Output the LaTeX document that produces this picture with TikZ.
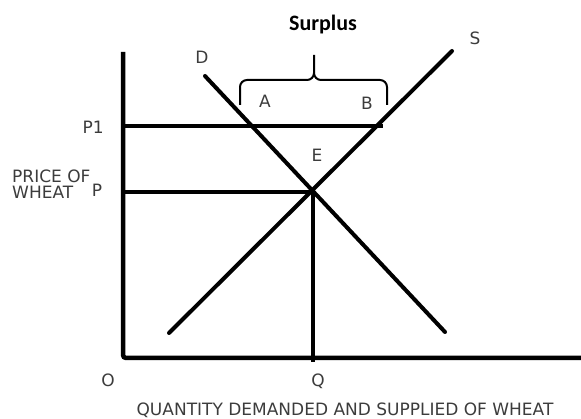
\documentclass[tikz,border=0pt]{standalone}
\usepackage{fontspec}
\setmainfont{DejaVu Sans}
\newfontfamily\surplusfont{Carlito}
\definecolor{lblgray}{RGB}{60,60,60}

\begin{document}
\begin{tikzpicture}[
    x=1pt, y=-1pt,
    axis/.style={line width=4.5pt, rounded corners=3pt},
    curve/.style={line width=4pt, line cap=round},
    guide/.style={line width=4pt},
    brc/.style={line width=2pt},
    lbl/.style={font=\fontsize{17}{16}\selectfont, text=lblgray, inner sep=0pt},
    ttl/.style={font=\surplusfont\bfseries\fontsize{22}{22}\selectfont, inner sep=0pt}
  ]
    \useasboundingbox (0,0) rectangle (581,419);
    \coordinate (top)  at (123,52);
    \coordinate (O)    at (123,358);
    \coordinate (xend) at (581,358);
    \coordinate (p1a)  at (123,126);
    \coordinate (p1b)  at (383,126);
    \coordinate (pa)   at (123,192);
    \coordinate (E)    at (313,192);
    \coordinate (qb)   at (313,362);
    \coordinate (d1)   at (205,76);
    \coordinate (d2)   at (445,332);
    \coordinate (s1)   at (169,333);
    \coordinate (s2)   at (452,51);
    \draw[axis] (top) -- (O) -- (xend);
    \draw[guide] (p1a) -- (p1b);
    \draw[guide] (pa) -- (E);
    \draw[guide] (E) -- (qb);
    \draw[curve] (d1) -- (d2);
    \draw[curve] (s1) -- (s2);
    \draw[brc] (240,105) -- (240,87) to[out=90,in=180] (247,80) -- (307,80)
      to[out=0,in=-90] (314,73) -- (314,55);
    \draw[brc] (314,73) to[out=-90,in=180] (321,80) -- (380,80)
      to[out=0,in=90] (387,87) -- (387,105);
    \node[ttl, anchor=base] (surplus) at (323,31) {Surplus};
    \node[lbl, anchor=base] (lD) at (202,64) {D};
    \node[lbl, anchor=base] (lS) at (475,45) {S};
    \node[lbl, anchor=base] (lA) at (265,108) {A};
    \node[lbl, anchor=base] (lB) at (367,110) {B};
    \node[lbl, anchor=base] (lE) at (317,162) {E};
    \node[lbl, anchor=base east] (lP1) at (104,134) {P1};
    \node[lbl, anchor=base] (lP) at (97,197) {P};
    \node[lbl, anchor=base west, align=left] (price) at (12,199) {PRICE OF\\WHEAT};
    \node[lbl, anchor=base] (lO) at (108,387) {O};
    \node[lbl, anchor=base] (lQ) at (318,387) {Q};
    \node[lbl, anchor=base] (qty) at (345,416) {QUANTITY DEMANDED AND SUPPLIED OF WHEAT};
\end{tikzpicture}
\end{document}
